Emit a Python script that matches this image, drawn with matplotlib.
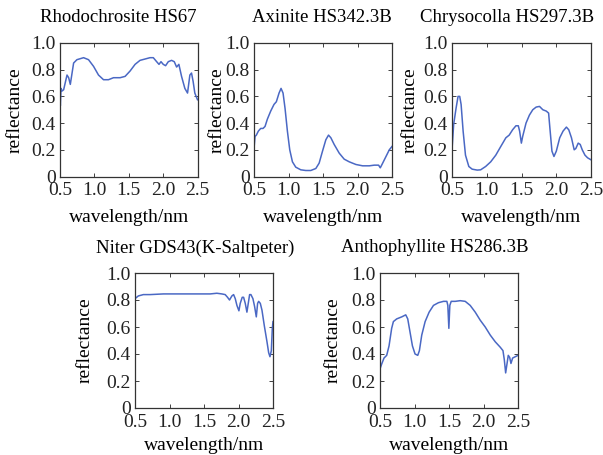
import numpy as np
import matplotlib
matplotlib.use('Agg')
import matplotlib.pyplot as plt

plt.rcParams['font.family'] = 'Liberation Serif'
plt.rcParams['font.size'] = 14

# spectra (wavelength, reflectance)
rhodo_x = [0.5, 0.505, 0.515, 0.529, 0.553, 0.602, 0.626, 0.65, 0.698, 0.746, 0.843, 0.915,
           0.988, 1.06, 1.133, 1.205, 1.278, 1.374, 1.447, 1.519, 1.592, 1.664, 1.737, 1.809,
           1.857, 1.906, 1.94, 1.969, 2.002, 2.036, 2.075, 2.123, 2.162, 2.196, 2.229, 2.268,
           2.316, 2.355, 2.389, 2.413, 2.437, 2.461, 2.5]
rhodo_y = [0.60, 0.53, 0.66, 0.64, 0.65, 0.76, 0.74, 0.69, 0.85, 0.875, 0.89, 0.875,
           0.825, 0.76, 0.725, 0.725, 0.74, 0.74, 0.75, 0.79, 0.84, 0.87, 0.88, 0.89,
           0.89, 0.86, 0.84, 0.86, 0.84, 0.83, 0.86, 0.87, 0.86, 0.82, 0.84, 0.75,
           0.66, 0.625, 0.76, 0.775, 0.71, 0.625, 0.575]

axin_x = [0.5, 0.515, 0.534, 0.563, 0.597, 0.631, 0.66, 0.694, 0.742, 0.79, 0.824, 0.863,
          0.892, 0.921, 0.95, 0.984, 1.018, 1.057, 1.105, 1.178, 1.25, 1.323, 1.396, 1.444,
          1.493, 1.541, 1.58, 1.614, 1.662, 1.735, 1.807, 1.88, 1.977, 2.074, 2.171, 2.243,
          2.306, 2.33, 2.355, 2.413, 2.461, 2.5]
axin_y = [0.21, 0.30, 0.31, 0.34, 0.36, 0.36, 0.375, 0.43, 0.49, 0.54, 0.56, 0.625,
          0.66, 0.625, 0.51, 0.34, 0.20, 0.11, 0.07, 0.05, 0.045, 0.045, 0.06, 0.10,
          0.19, 0.275, 0.31, 0.29, 0.24, 0.175, 0.13, 0.11, 0.09, 0.08, 0.08, 0.085,
          0.085, 0.065, 0.09, 0.15, 0.20, 0.225]

chry_x = [0.5, 0.524, 0.558, 0.587, 0.611, 0.631, 0.66, 0.694, 0.742, 0.79, 0.863, 0.912,
          0.984, 1.057, 1.13, 1.202, 1.275, 1.323, 1.372, 1.42, 1.454, 1.473, 1.498, 1.517,
          1.565, 1.614, 1.662, 1.711, 1.759, 1.807, 1.856, 1.89, 1.909, 1.938, 1.967, 2.001,
          2.05, 2.098, 2.146, 2.18, 2.219, 2.258, 2.282, 2.316, 2.345, 2.374, 2.413, 2.451, 2.5]
chry_y = [0.20, 0.39, 0.51, 0.60, 0.60, 0.54, 0.34, 0.16, 0.075, 0.055, 0.048, 0.05,
          0.075, 0.11, 0.16, 0.225, 0.29, 0.31, 0.35, 0.38, 0.38, 0.34, 0.25, 0.30,
          0.40, 0.46, 0.50, 0.52, 0.525, 0.50, 0.49, 0.475, 0.36, 0.19, 0.15, 0.19,
          0.29, 0.34, 0.37, 0.35, 0.29, 0.20, 0.21, 0.25, 0.24, 0.20, 0.16, 0.14, 0.125]

niter_x = [0.5, 0.548, 0.621, 0.718, 0.912, 1.154, 1.396, 1.59, 1.686, 1.759, 1.807, 1.841,
           1.87, 1.904, 1.929, 1.953, 1.977, 2.006, 2.025, 2.054, 2.074, 2.098, 2.122, 2.137,
           2.161, 2.18, 2.209, 2.234, 2.258, 2.277, 2.292, 2.316, 2.34, 2.374, 2.413, 2.437,
           2.456, 2.476, 2.49, 2.5]
niter_y = [0.81, 0.83, 0.84, 0.84, 0.845, 0.845, 0.845, 0.845, 0.85, 0.845, 0.84, 0.82,
           0.80, 0.83, 0.84, 0.81, 0.76, 0.72, 0.775, 0.82, 0.82, 0.775, 0.71, 0.76,
           0.84, 0.84, 0.81, 0.75, 0.675, 0.775, 0.79, 0.775, 0.725, 0.61, 0.49, 0.41,
           0.38, 0.425, 0.59, 0.64]

antho_x = [0.5, 0.524, 0.558, 0.597, 0.631, 0.669, 0.694, 0.742, 0.815, 0.873, 0.902, 0.936,
           0.97, 1.008, 1.047, 1.071, 1.105, 1.154, 1.212, 1.275, 1.347, 1.42, 1.469, 1.483,
           1.498, 1.512, 1.532, 1.59, 1.662, 1.735, 1.807, 1.88, 1.953, 2.025, 2.098, 2.171,
           2.243, 2.282, 2.301, 2.321, 2.34, 2.359, 2.379, 2.398, 2.422, 2.461, 2.5]
antho_y = [0.29, 0.325, 0.37, 0.39, 0.46, 0.59, 0.64, 0.66, 0.675, 0.69, 0.66, 0.56,
           0.46, 0.40, 0.39, 0.425, 0.54, 0.64, 0.71, 0.76, 0.78, 0.79, 0.79, 0.76,
           0.59, 0.76, 0.79, 0.79, 0.795, 0.79, 0.76, 0.71, 0.65, 0.60, 0.54, 0.49,
           0.45, 0.425, 0.36, 0.26, 0.325, 0.39, 0.375, 0.33, 0.37, 0.38, 0.39]

titles = ['Rhodochrosite HS67', 'Axinite HS342.3B', 'Chrysocolla HS297.3B',
          'Niter GDS43(K-Saltpeter)', 'Anthophyllite HS286.3B']
xs = [rhodo_x, axin_x, chry_x, niter_x, antho_x]
ys = [rhodo_y, axin_y, chry_y, niter_y, antho_y]

W, H = 603, 455
# axes boxes in pixels: left, right, top, bottom
boxes = [(60, 197.5, 43, 176.5), (254, 392, 43, 176.5), (452, 591, 43, 176.5),
         (135, 273, 273, 408), (380, 518, 273, 408)]
title_cx = [118.5, 321.5, 507, 195, 435]
ylab_off = [45, 37, 42, 50, 47]   # centre of the y label, px left of the axes

fig = plt.figure(figsize=(W / 100, H / 100), dpi=100)
for i in range(5):
    l, r, t, b = boxes[i]
    ax = fig.add_axes([l / W, 1 - b / H, (r - l) / W, (b - t) / H])
    ax.plot(xs[i], ys[i], color='#4a68c4', lw=1.1)
    ax.set_xlim(0.5, 2.5)
    ax.set_ylim(0, 1.0)
    ax.set_xticks([0.5, 1.0, 1.5, 2.0, 2.5])
    ax.set_xticklabels(['0.5', '1.0', '1.5', '2.0', '2.5'])
    ax.set_yticks([0, 0.2, 0.4, 0.6, 0.8, 1.0])
    ax.set_yticklabels(['0', '0.2', '0.4', '0.6', '0.8', '1.0'])
    ax.tick_params(direction='in', length=3, width=0.6, top=True, right=True,
                   labelsize=14, colors='#222222')
    ax.tick_params(axis='x', pad=4)
    ax.tick_params(axis='y', pad=3)
    for s in ax.spines.values():
        s.set_linewidth(0.9)
        s.set_color('#333333')
    ax.set_ylabel('reflectance', fontsize=14)
    ax.yaxis.set_label_coords(-(ylab_off[i] - 9) / (r - l), 0.5)
    ax.set_xlabel('wavelength/nm', fontsize=14)
    if i < 3:
        ax.xaxis.set_label_coords(0.5, -33 / (b - t))
    else:
        ax.xaxis.set_label_coords(0.5, -29 / (b - t))
    ax.text((title_cx[i] - l) / (r - l), 1 + 25 / (b - t), titles[i],
            transform=ax.transAxes, ha='center', va='center', fontsize=13.5)

fig.savefig('out.png', dpi=100)
